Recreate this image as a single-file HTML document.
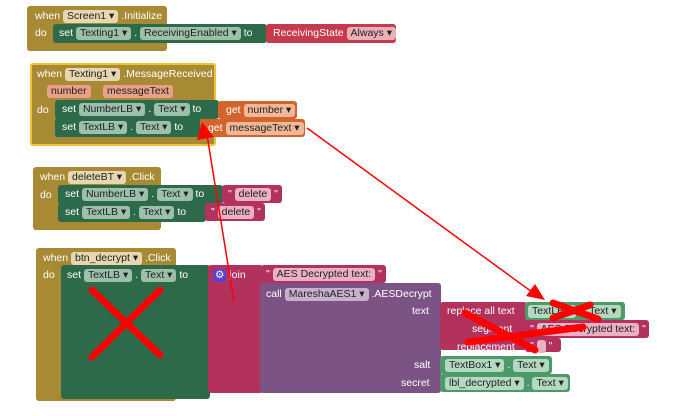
<!DOCTYPE html>
<html><head><meta charset="utf-8"><style>
body{margin:0;width:690px;height:416px;background:#fff;position:relative;overflow:hidden;font-family:"Liberation Sans",sans-serif;font-size:10.5px;color:#fff}
.b{position:absolute;box-sizing:border-box;border-radius:3px}
.t{position:absolute;white-space:nowrap;line-height:14px}
.f{display:inline-block;padding:0 4px;border-radius:3px;color:#222;line-height:13px}
.g{background:#b0956a33}
.gold{background:#a88a34}
.grn{background:#2d6a4a}
.lg{background:#4c9a6a}
.pk{background:#b2325d}
.pu{background:#7b5385}
.or{background:#d2642c}
.rd{background:#c53a4c}
</style></head><body>
<!-- block 1 -->
<div class="b gold" style="left:27px;top:6px;width:140px;height:45px"></div>
<div class="t" style="left:35px;top:9px">when <span class="f" style="background:#e6d7b0">Screen1 ▾</span> .Initialize</div>
<div class="t" style="left:35px;top:26px">do</div>
<div class="b grn" style="left:53px;top:24px;width:214px;height:19px"></div>
<div class="t" style="left:59px;top:26px">set <span class="f" style="background:#9dc0ab">Texting1 ▾</span> . <span class="f" style="background:#9dc0ab">ReceivingEnabled ▾</span> to</div>
<div class="b rd" style="left:266px;top:24px;width:130px;height:19px"></div>
<div class="t" style="left:273px;top:26px">ReceivingState <span class="f" style="background:#eab0b8">Always ▾</span></div>
<!-- block 2 -->
<div class="b gold" style="left:30px;top:63px;width:186px;height:83px;border:2px solid #f2c230"></div>
<div class="t" style="left:37px;top:67px">when <span class="f" style="background:#e6d7b0">Texting1 ▾</span> .MessageReceived</div>
<div class="t" style="left:47px;top:84px"><span class="f" style="background:#e8a088">number</span></div>
<div class="t" style="left:103px;top:84px"><span class="f" style="background:#e8a088">messageText</span></div>
<div class="t" style="left:37px;top:103px">do</div>
<div class="b grn" style="left:55px;top:100px;width:164px;height:19px"></div>
<div class="t" style="left:62px;top:102px">set <span class="f" style="background:#9dc0ab">NumberLB ▾</span> . <span class="f" style="background:#9dc0ab">Text ▾</span> to</div>
<div class="b or" style="left:218px;top:101px;width:79px;height:18px"></div>
<div class="t" style="left:226px;top:103px">get <span class="f" style="background:#f0b898">number ▾</span></div>
<div class="b grn" style="left:55px;top:118px;width:146px;height:19px"></div>
<div class="t" style="left:62px;top:120px">set <span class="f" style="background:#9dc0ab">TextLB ▾</span> . <span class="f" style="background:#9dc0ab">Text ▾</span> to</div>
<div class="b or" style="left:200px;top:119px;width:105px;height:18px"></div>
<div class="t" style="left:208px;top:121px">get <span class="f" style="background:#f0b898">messageText ▾</span></div>
<!-- block 3 -->
<div class="b gold" style="left:33px;top:167px;width:128px;height:63px"></div>
<div class="t" style="left:40px;top:170px">when <span class="f" style="background:#e6d7b0">deleteBT ▾</span> .Click</div>
<div class="t" style="left:40px;top:188px">do</div>
<div class="b grn" style="left:58px;top:185px;width:165px;height:19px"></div>
<div class="t" style="left:65px;top:187px">set <span class="f" style="background:#9dc0ab">NumberLB ▾</span> . <span class="f" style="background:#9dc0ab">Text ▾</span> to</div>
<div class="b pk" style="left:222px;top:185px;width:60px;height:18px"></div>
<div class="t" style="left:228px;top:187px">" <span class="f" style="background:#eab0c4">delete</span> "</div>
<div class="b grn" style="left:58px;top:203px;width:148px;height:19px"></div>
<div class="t" style="left:65px;top:205px">set <span class="f" style="background:#9dc0ab">TextLB ▾</span> . <span class="f" style="background:#9dc0ab">Text ▾</span> to</div>
<div class="b pk" style="left:205px;top:203px;width:60px;height:18px"></div>
<div class="t" style="left:211px;top:205px">" <span class="f" style="background:#eab0c4">delete</span> "</div>
<!-- block 4 -->
<div class="b gold" style="left:36px;top:248px;width:140px;height:153px"></div>
<div class="t" style="left:43px;top:251px">when <span class="f" style="background:#e6d7b0">btn_decrypt ▾</span> .Click</div>
<div class="t" style="left:43px;top:268px">do</div>
<div class="b grn" style="left:61px;top:265px;width:149px;height:134px"></div>
<div class="t" style="left:67px;top:268px">set <span class="f" style="background:#9dc0ab">TextLB ▾</span> . <span class="f" style="background:#9dc0ab">Text ▾</span> to</div>
<div class="b pk" style="left:208px;top:265px;width:55px;height:128px"></div>
<div class="t" style="left:213px;top:268px"><span class="f" style="background:#5a3fd0;color:#fff;padding:0 2px">⚙</span> join</div>
<div class="b pk" style="left:261px;top:265px;width:125px;height:18px"></div>
<div class="t" style="left:266px;top:267px">" <span class="f" style="background:#eab0c4">AES Decrypted text:</span> "</div>
<div class="b pu" style="left:260px;top:283px;width:181px;height:110px"></div>
<div class="t" style="left:266px;top:287px">call <span class="f" style="background:#c8b0cc">MareshaAES1 ▾</span> .AESDecrypt</div>
<div class="t" style="left:412px;top:304px">text</div>
<div class="t" style="left:414px;top:358px">salt</div>
<div class="t" style="left:401px;top:376px">secret</div>
<div class="b pk" style="left:440px;top:302px;width:87px;height:48px"></div>
<div class="t" style="left:447px;top:304px">replace all text</div>
<div class="t" style="left:472px;top:322px">segment</div>
<div class="t" style="left:457px;top:340px">replacement</div>
<div class="b lg" style="left:525px;top:302px;width:100px;height:18px"></div>
<div class="t" style="left:528px;top:304px"><span class="f" style="background:#b4d8c0">TextLB ▾</span> . <span class="f" style="background:#b4d8c0">Text ▾</span></div>
<div class="b pk" style="left:525px;top:320px;width:124px;height:18px"></div>
<div class="t" style="left:530px;top:322px">" <span class="f" style="background:#eab0c4">AES Decrypted text:</span> "</div>
<div class="b pk" style="left:525px;top:338px;width:36px;height:14px"></div>
<div class="t" style="left:530px;top:339px">" <span class="f" style="background:#eab0c4;padding:0 3px">&nbsp;</span> "</div>
<div class="b lg" style="left:440px;top:356px;width:112px;height:18px"></div>
<div class="t" style="left:445px;top:358px"><span class="f" style="background:#b4d8c0">TextBox1 ▾</span> . <span class="f" style="background:#b4d8c0">Text ▾</span></div>
<div class="b lg" style="left:440px;top:374px;width:130px;height:18px"></div>
<div class="t" style="left:445px;top:376px"><span class="f" style="background:#b4d8c0">lbl_decrypted ▾</span> . <span class="f" style="background:#b4d8c0">Text ▾</span></div>
<svg width="690" height="416" style="position:absolute;left:0;top:0">
<g stroke="#f00" fill="none">
<line x1="234" y1="302" x2="207" y2="135" stroke-width="1.5"/>
<line x1="307" y1="128" x2="532" y2="292" stroke-width="1.5"/>
<g stroke-width="7" stroke-linecap="round">
<line x1="92" y1="290" x2="160" y2="355"/><line x1="92" y1="357" x2="160" y2="290"/>
<line x1="465" y1="313" x2="535" y2="350"/><line x1="468" y1="342" x2="583" y2="327"/>
<line x1="553" y1="303" x2="598" y2="319"/><line x1="553" y1="318" x2="590" y2="305"/>
</g></g>
<polygon points="202,122 197,140 214,137" fill="#f00"/>
<polygon points="545,300 526,296 535,284" fill="#f00"/>
</svg>
</body></html>
